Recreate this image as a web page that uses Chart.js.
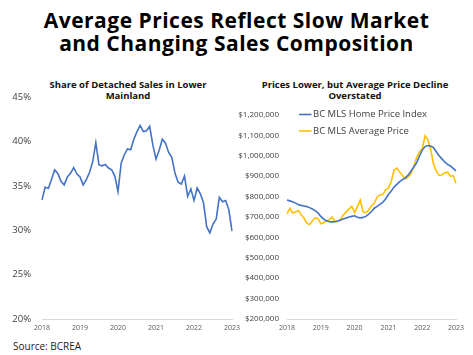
<!DOCTYPE html>
<html>
<head>
<meta charset="utf-8">
<script src="https://cdn.jsdelivr.net/npm/chart.js@4.4.1/dist/chart.umd.min.js"></script>
<style>
  html, body { margin: 0; padding: 0; background: #fff; }
  body { width: 473px; height: 355px; position: relative; overflow: hidden; font-family: "Open Sans", sans-serif; }
  #title { position: absolute; left: 0; top: 9px; width: 473px; text-align: center; font-weight: 700; font-size: 21px; letter-spacing: 0.5px; line-height: 23px; color: #000; }
  .sub { position: absolute; top: 79px; text-align: center; font-weight: 700; font-size: 9.5px; line-height: 11px; color: #111; }
  #sub1 { left: 18px; width: 220px; }
  #sub2 { left: 245px; width: 220px; }
  #source { position: absolute; left: 13px; top: 339px; font-size: 10px; color: #222; }
  #c1 { position: absolute; left: 0; top: 0; }
  #c2 { position: absolute; left: 200px; top: 0; }
</style>
</head>
<body>
<div id="title">Average Prices Reflect Slow Market<br>and Changing Sales Composition</div>
<div class="sub" id="sub1">Share of Detached Sales in Lower<br>Mainland</div>
<div class="sub" id="sub2">Prices Lower, but Average Price Decline<br>Overstated</div>
<div id="source">Source: BCREA</div>
<canvas id="c1" width="250" height="355"></canvas>
<canvas id="c2" width="273" height="355"></canvas>
<script>
// Tick labels (years) and monthly categories Jan 2018 - Jan 2023
const years = ['2018', '2019', '2020', '2021', '2022', '2023'];
const monthNames = ['Jan','Feb','Mar','Apr','May','Jun','Jul','Aug','Sep','Oct','Nov','Dec'];
const months = [];
for (let y = 0; y < years.length; y++) {
  for (let m = 0; m < 12; m++) {
    if (y === years.length - 1 && m > 0) break;
    months.push(monthNames[m] + ' ' + years[y]);
  }
}

// Share of detached sales in Lower Mainland (%)
const detachedShare = [
  33.4, 34.85, 34.7, 35.7, 36.8, 36.4, 35.5, 35.1, 36.0, 36.4, 37.05, 36.35,
  36.0, 35.1, 35.7, 36.5, 37.7, 39.85, 37.35, 37.25, 37.4, 37.0, 36.8, 36.1,
  34.35, 37.55, 38.5, 39.15, 39.05, 40.25, 41.1, 41.8, 41.1, 41.2, 41.7, 39.6,
  38.0, 39.0, 40.25, 39.8, 38.75, 38.2, 36.4, 35.4, 35.2, 36.1, 33.8, 34.65,
  33.35, 34.75, 34.1, 33.1, 30.4, 29.7, 30.7, 31.25, 33.7, 33.2, 33.35, 32.3,
  29.9
];

// BC MLS Home Price Index ($)
const hpi = [
  783000, 779000, 775000, 768000, 761000, 757000, 754000, 751000, 746000, 739000, 731000, 720000,
  703000, 690000, 681000, 677000, 676000, 677000, 680000, 685000, 690000, 695000, 700000, 703000,
  706000, 699000, 696000, 698000, 703000, 714000, 727000, 743000, 752000, 762000, 772000, 788000,
  810000, 827000, 847000, 860000, 873000, 883000, 892000, 905000, 925000, 945000, 965000, 998000,
  1028000, 1045000, 1050000, 1048000, 1040000, 1020000, 1000000, 985000, 970000, 958000, 950000, 938000,
  926000
];

// BC MLS Average Price ($)
const avgPrice = [
  715000, 743000, 720000, 725000, 732000, 712000, 695000, 670000, 663000, 680000, 697000, 692000,
  667000, 672000, 680000, 687000, 700000, 678000, 678000, 687000, 710000, 725000, 740000, 752000,
  721000, 752000, 783000, 725000, 721000, 733000, 755000, 768000, 797000, 808000, 810000, 833000,
  842000, 873000, 930000, 940000, 920000, 903000, 887000, 896000, 912000, 948000, 990000, 1020000,
  1033000, 1098000, 1078000, 1032000, 960000, 925000, 905000, 906000, 917000, 920000, 900000, 903000,
  865000
];

const seriesNames = ['BC MLS Home Price Index', 'BC MLS Average Price'];
const BLUE = '#4472C4';
const GOLD = '#FFC000';
const FONT = '"Open Sans", sans-serif';

function yearTick(val, idx) {
  return idx % 12 === 0 ? years[idx / 12] : '';
}

const xScale = (fitHeight) => ({
  type: 'category',
  offset: false,
  grid: { display: false, drawTicks: false, tickLength: 0 },
  border: { display: true, color: '#d9d9d9', width: 1 },
  ticks: {
    autoSkip: false, maxRotation: 0, minRotation: 0, padding: 5,
    color: '#595959', font: { family: FONT, size: 7 },
    callback: yearTick
  },
  afterFit: (s) => { s.height = fitHeight; }
});

// Left chart
new Chart(document.getElementById('c1'), {
  type: 'line',
  data: {
    labels: months,
    datasets: [{
      label: 'Share of Detached Sales',
      data: detachedShare,
      borderColor: BLUE, borderWidth: 1.6, pointRadius: 0, tension: 0, fill: false
    }]
  },
  options: {
    responsive: false, animation: false,
    layout: { padding: { top: 97, bottom: 16, left: 0, right: 18 } },
    plugins: { legend: { display: false }, tooltip: { enabled: false } },
    scales: {
      x: xScale(20),
      y: {
        min: 20, max: 45,
        grid: { display: false, drawTicks: false, tickLength: 0 },
        border: { display: false },
        ticks: {
          stepSize: 5, padding: 11, color: '#404040',
          font: { family: FONT, size: 9.5 },
          callback: (v) => v + '%'
        },
        afterFit: (s) => { s.width = 42; }
      }
    }
  }
});

// Legend drawn inside chart area from dataset labels/colors
const insideLegend = {
  id: 'insideLegend',
  afterDraw(chart) {
    const ctx = chart.ctx;
    ctx.save();
    ctx.font = '9.5px ' + FONT;
    ctx.textBaseline = 'middle';
    ctx.fillStyle = '#404040';
    chart.data.datasets.forEach((ds, i) => {
      const y = 114.5 + i * 16.5;
      const x0 = 99;
      ctx.strokeStyle = ds.borderColor;
      ctx.lineWidth = 1.6;
      ctx.beginPath();
      ctx.moveTo(x0, y);
      ctx.lineTo(x0 + 12.5, y);
      ctx.stroke();
      ctx.fillText(ds.label, x0 + 14, y);
    });
    ctx.restore();
  }
};

// Right chart
new Chart(document.getElementById('c2'), {
  type: 'line',
  data: {
    labels: months,
    datasets: [
      { label: seriesNames[0], data: hpi, borderColor: BLUE, borderWidth: 1.6, pointRadius: 0, tension: 0, fill: false },
      { label: seriesNames[1], data: avgPrice, borderColor: GOLD, borderWidth: 1.6, pointRadius: 0, tension: 0, fill: false }
    ]
  },
  options: {
    responsive: false, animation: false,
    layout: { padding: { top: 115, bottom: 16, left: 0, right: 17 } },
    plugins: { legend: { display: false }, tooltip: { enabled: false } },
    scales: {
      x: xScale(20),
      y: {
        min: 200000, max: 1200000,
        grid: { display: false, drawTicks: false, tickLength: 0 },
        border: { display: false },
        ticks: {
          stepSize: 100000, padding: 8, color: '#404040',
          font: { family: FONT, size: 8 },
          callback: (v) => '$' + v.toLocaleString('en-US')
        },
        afterFit: (s) => { s.width = 87; }
      }
    }
  },
  plugins: [insideLegend]
});
</script>
</body>
</html>
